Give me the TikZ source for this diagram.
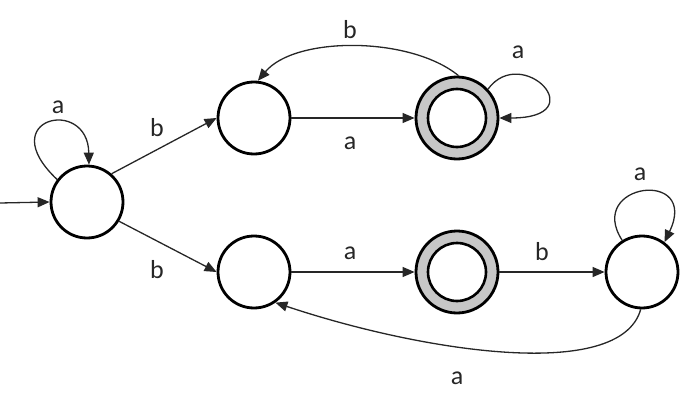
\documentclass[tikz,border=0pt]{standalone}
\usepackage{fontspec}
\setmainfont{Carlito}
\usetikzlibrary{arrows.meta}
\begin{document}
\begin{tikzpicture}[x=1pt,y=1pt,
  st/.style={circle,draw=black,line width=2.8pt,minimum size=72pt,inner sep=0pt,fill=white},
  accout/.style={circle,draw=black,line width=2.8pt,minimum size=82pt,inner sep=0pt,fill=black!22},
  accin/.style={circle,draw=black,line width=2.6pt,minimum size=58pt,inner sep=0pt,fill=white},
  edge/.style={line width=1.3pt,draw=black!85,-{Triangle[length=12pt,width=10pt]}},
  lbl/.style={font=\fontsize{26}{30}\selectfont,text=black!85,inner sep=0pt}]
\useasboundingbox (0,0) rectangle (694,408);
% states
\node[st] (q0) at (87,206) {};
\node[st] (q1) at (254,290) {};
\node[accout] (q2) at (457,290) {};
\node[accin] (q2i) at (457,290) {};
\node[st] (q3) at (254,136) {};
\node[accout] (q4) at (457,136) {};
\node[accin] (q4i) at (457,136) {};
\node[st] (q5) at (642,136) {};
% initial arrow
\coordinate (start) at (0,205);
\draw[edge] (start) -- (q0.west);
% q0
\draw[edge] (q0.143) .. controls (-8,290) and (88,312) .. (q0.87);
\node[lbl] (l0) at (58,301) {a};
\draw[edge] (q0.49) -- (q1.west);
\node[lbl] (l1) at (157,280) {b};
\draw[edge] (q0.-31) -- (q3.west);
\node[lbl] (l2) at (157,138) {b};
% top row
\draw[edge] (q1.east) -- (q2.west);
\node[lbl] (l3) at (350,265) {a};
\draw[edge] (q2.88) .. controls (410,372) and (295,372) .. (q1.84);
\node[lbl] (l4) at (350,378) {b};
\draw[edge] (q2.43) .. controls (522,365) and (595,290) .. (q2.east);
\node[lbl] (l5) at (518,356) {a};
% bottom row
\draw[edge] (q3.east) -- (q4.west);
\node[lbl] (l6) at (350,155) {a};
\draw[edge] (q4.east) -- (q5.west);
\node[lbl] (l7) at (542,156) {b};
\draw[edge] (q5.122) .. controls (585,225) and (700,240) .. (q5.53);
\node[lbl] (l8) at (640,234) {a};
\draw[edge] (q5.-92) .. controls (620,25) and (420,57) .. (q3.-55);
\node[lbl] (l9) at (457,30) {a};
\end{tikzpicture}
\end{document}
